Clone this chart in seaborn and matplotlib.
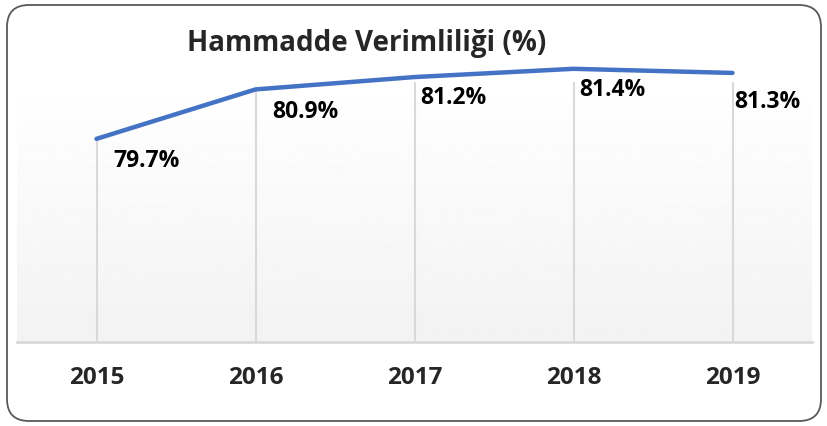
import numpy as np
import pandas as pd
import matplotlib
matplotlib.use("Agg")
import matplotlib.pyplot as plt
import matplotlib.patches as mpatches
from matplotlib.transforms import IdentityTransform
import seaborn as sns

# data
years = ["2015", "2016", "2017", "2018", "2019"]
verim = [79.7, 80.9, 81.2, 81.4, 81.3]
etiket = ["79.7%", "80.9%", "81.2%", "81.4%", "81.3%"]
title = "Hammadde Verimliliği (%)"

sns.set_style("white")
plt.rcParams["font.family"] = ["Open Sans", "DejaVu Sans"]

df = pd.DataFrame({"pos": np.arange(len(years)), "val": verim})

fig = plt.figure(figsize=(8.28, 4.26), dpi=100)
ax = fig.add_axes([17 / 828, 84 / 426, 795 / 828, 260 / 426])

ymin, ymax = 74.77, 81.08
ax.set_xlim(-0.5, len(years) - 0.5)
ax.set_ylim(ymin, ymax)

# gradient background of the plot area
grad = np.linspace(0.95, 1.0, 256).reshape(-1, 1)
ax.imshow(grad, cmap="gray", vmin=0, vmax=1, aspect="auto",
          extent=(-0.5, len(years) - 0.5, ymin, ymax), origin="lower", zorder=0)

# drop lines
ax.vlines(df["pos"], ymin, df["val"], color="#d9d9d9", lw=1.5, zorder=1)

sns.lineplot(data=df, x="pos", y="val", ax=ax, color="#4472C4", lw=3.2, zorder=3)
for ln in ax.lines:
    ln.set_clip_on(False)
    ln.set_solid_capstyle("round")

# value labels
offs = [(12, -16), (12, -16), (4, -15), (4, -15), (1, -21)]
for i, (v, t) in enumerate(zip(verim, etiket)):
    ax.annotate(t, (i, v), xytext=offs[i], textcoords="offset points",
                ha="left", va="center", fontsize=16.5, fontweight="bold",
                color="black", annotation_clip=False)

ax.set_xticks(df["pos"])
ax.set_xticklabels(years, fontsize=17.5, fontweight="bold")
ax.tick_params(axis="x", length=0, pad=17)
ax.set_yticks([])
ax.set_xlabel("")
ax.set_ylabel("")
for s in ["top", "left", "right"]:
    ax.spines[s].set_visible(False)
ax.spines["bottom"].set_color("#d9d9d9")
ax.spines["bottom"].set_linewidth(2)

fig.text(367 / 828, (426 - 43) / 426, title, ha="center", va="center",
         fontsize=20, fontweight="bold")

# rounded border around the whole chart
box = mpatches.FancyBboxPatch((7, 5), 814, 416,
                              boxstyle="round,pad=0,rounding_size=22",
                              transform=IdentityTransform(),
                              fill=False, ec="#595959", lw=1.3)
fig.patches.append(box)

fig.savefig("out.png", dpi=100)
